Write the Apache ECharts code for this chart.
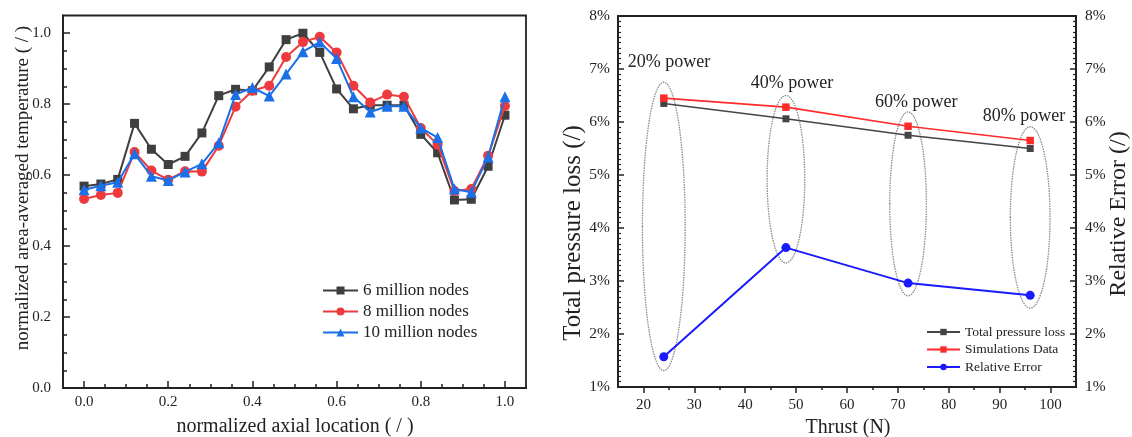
<!DOCTYPE html>
<html><head><meta charset="utf-8">
<script src="https://cdn.jsdelivr.net/npm/echarts@6/dist/echarts.min.js"></script>
<style>html,body{margin:0;padding:0;background:#fff}#c{width:1132px;height:437px}</style>
</head><body><div id="c"></div>
<script>
// ---- Left chart data ----
const axialLocation = [0,0.04,0.08,0.12,0.16,0.20,0.24,0.28,0.32,0.36,0.40,0.44,0.48,0.52,0.56,0.60,0.64,0.68,0.72,0.76,0.80,0.84,0.88,0.92,0.96,1.00];
const nodes6M  = [0.569,0.575,0.588,0.746,0.673,0.630,0.653,0.719,0.824,0.842,0.838,0.905,0.982,1.000,0.946,0.843,0.787,0.797,0.797,0.797,0.715,0.663,0.530,0.532,0.625,0.769];
const nodes8M  = [0.533,0.544,0.550,0.665,0.613,0.587,0.611,0.610,0.683,0.793,0.838,0.852,0.933,0.975,0.990,0.946,0.852,0.805,0.827,0.821,0.733,0.686,0.555,0.561,0.655,0.795];
const nodes10M = [0.559,0.570,0.580,0.660,0.597,0.585,0.609,0.632,0.691,0.827,0.847,0.823,0.885,0.948,0.975,0.929,0.821,0.778,0.794,0.794,0.733,0.706,0.561,0.552,0.651,0.821];
const leftSeriesNames = ['6 million nodes','8 million nodes','10 million nodes'];
const leftXMajorTicks = [0,0.2,0.4,0.6,0.8,1.0];
const leftXMinorTicks = [0.05,0.1,0.15,0.25,0.3,0.35,0.45,0.5,0.55,0.65,0.7,0.75,0.85,0.9,0.95];
const leftYMajorTicks = [0,0.2,0.4,0.6,0.8,1.0];
const leftYMinorTicks = [0.05,0.1,0.15,0.25,0.3,0.35,0.45,0.5,0.55,0.65,0.7,0.75,0.85,0.9,0.95];

// ---- Right chart data ----
const thrust = [24,48,72,96];
const totalPressureLoss = [6.35,6.06,5.75,5.50];
const simulationsData   = [6.45,6.28,5.92,5.65];
const relativeError     = [1.57,3.63,2.96,2.73];
const rightSeriesNames = ['Total pressure loss','Simulations Data','Relative Error'];
const rightXMajorTicks = [20,30,40,50,60,70,80,90,100];
const rightXMinorTicks = [25,35,45,55,65,75,85,95];
const powerLabels = ['20% power','40% power','60% power','80% power'];
const powerLabelX = [25.0,49.2,73.6,94.8];
const powerLabelY = [7.13,6.74,6.38,6.11];
const ellipseTop    = [6.75,6.50,6.19,5.91];
const ellipseBottom = [1.31,3.34,2.72,2.49];
const ellipseWidth  = [8.4,7.4,7.2,7.8];

const FONT = "'Liberation Serif','DejaVu Serif',serif";
const INK = '#222';
const zip = (xs, ys) => xs.map((x, i) => [x, ys[i]]);

const axisLine = {show: true, onZero: false, lineStyle: {color: INK, width: 1.8}};
function mainAxis(extra) {
  return Object.assign({
    type: 'value', axisLine: axisLine, splitLine: {show: false}
  }, extra);
}
function minorAxis(extra) {
  return Object.assign({
    type: 'value', axisLine: {show: false, onZero: false}, axisLabel: {show: false}, splitLine: {show: false}
  }, extra);
}

const chart = echarts.init(document.getElementById('c'), null, {renderer: 'canvas'});
const option = {
  animation: false,
  backgroundColor: '#fff',
  textStyle: {fontFamily: FONT, color: INK},
  grid: [
    {left: 63, top: 15.5, width: 463, height: 372.5, show: true, borderColor: INK, borderWidth: 1.8, containLabel: false},
    {left: 618, top: 16, width: 458, height: 371, show: true, borderColor: INK, borderWidth: 1.8, containLabel: false}
  ],
  xAxis: [
    mainAxis({gridIndex: 0, min: -0.05, max: 1.05, position: 'bottom',
      axisTick: {show: true, inside: true, length: 7, customValues: leftXMajorTicks, lineStyle: {color: INK, width: 1.5}},
      axisLabel: {customValues: leftXMajorTicks, formatter: v => v.toFixed(1), fontSize: 15, color: INK, fontFamily: FONT, margin: 7}}),
    minorAxis({gridIndex: 0, min: -0.05, max: 1.05, position: 'bottom',
      axisTick: {show: true, inside: true, length: 4, customValues: leftXMinorTicks, lineStyle: {color: INK, width: 1.5}}}),
    mainAxis({gridIndex: 1, min: 15, max: 105, position: 'bottom',
      axisTick: {show: true, inside: false, length: 6, customValues: rightXMajorTicks, lineStyle: {color: INK, width: 1.5}},
      axisLabel: {customValues: rightXMajorTicks, fontSize: 15, color: INK, fontFamily: FONT, margin: 11}}),
    minorAxis({gridIndex: 1, min: 15, max: 105, position: 'bottom',
      axisTick: {show: true, inside: false, length: 3, customValues: rightXMinorTicks, lineStyle: {color: INK, width: 1.5}}})
  ],
  yAxis: [
    mainAxis({gridIndex: 0, min: 0, max: 1.05, position: 'left',
      axisTick: {show: true, inside: true, length: 7, customValues: leftYMajorTicks, lineStyle: {color: INK, width: 1.5}},
      axisLabel: {customValues: leftYMajorTicks, formatter: v => v.toFixed(1), fontSize: 15, color: INK, fontFamily: FONT, margin: 12}}),
    minorAxis({gridIndex: 0, min: 0, max: 1.05, position: 'left',
      axisTick: {show: true, inside: true, length: 4, customValues: leftYMinorTicks, lineStyle: {color: INK, width: 1.5}}}),
    mainAxis({gridIndex: 1, min: 1, max: 8, interval: 1, position: 'left',
      axisTick: {show: true, inside: true, length: 6, lineStyle: {color: INK, width: 1.5}},
      minorTick: {show: true, splitNumber: 10, length: 3, lineStyle: {color: INK, width: 1.2}},
      axisLabel: {formatter: '{value}%', fontSize: 15.5, color: INK, fontFamily: FONT, margin: 8, inside: false}}),
    mainAxis({gridIndex: 1, min: 1, max: 8, interval: 1, position: 'right',
      axisTick: {show: true, inside: true, length: 6, lineStyle: {color: INK, width: 1.5}},
      minorTick: {show: true, splitNumber: 10, length: 3, lineStyle: {color: INK, width: 1.2}},
      axisLabel: {formatter: '{value}%', fontSize: 15.5, color: INK, fontFamily: FONT, margin: 9, inside: false}})
  ],
  legend: [
    {data: leftSeriesNames, orient: 'vertical', left: 322, top: 282, padding: 0, itemWidth: 35, itemHeight: 10, itemGap: 4,
     textStyle: {fontSize: 17, fontFamily: FONT, color: INK}},
    {data: rightSeriesNames, orient: 'vertical', left: 926, top: 325, padding: 0, itemWidth: 33, itemHeight: 8, itemGap: 3.5,
     textStyle: {fontSize: 13.5, fontFamily: FONT, color: INK}}
  ],
  graphic: [
    {type: 'text', x: 23, y: 188, rotation: Math.PI / 2, style: {text: 'normalized area-averaged temperature ( / )', fontSize: 19, fontFamily: FONT, fill: INK, align: 'center', verticalAlign: 'middle', textAlign: 'center', textVerticalAlign: 'middle'}},
    {type: 'text', x: 295, y: 427, style: {text: 'normalized axial location ( / )', fontSize: 20, fontFamily: FONT, fill: INK, align: 'center', verticalAlign: 'middle', textAlign: 'center', textVerticalAlign: 'middle'}},
    {type: 'text', x: 848, y: 428, style: {text: 'Thrust (N)', fontSize: 20, fontFamily: FONT, fill: INK, align: 'center', verticalAlign: 'middle', textAlign: 'center', textVerticalAlign: 'middle'}},
    {type: 'text', x: 573, y: 233, rotation: Math.PI / 2, style: {text: 'Total pressure loss (/)', fontSize: 25, fontFamily: FONT, fill: INK, align: 'center', verticalAlign: 'middle', textAlign: 'center', textVerticalAlign: 'middle'}},
    {type: 'text', x: 1119, y: 214, rotation: Math.PI / 2, style: {text: 'Relative Error (/)', fontSize: 24, fontFamily: FONT, fill: INK, align: 'center', verticalAlign: 'middle', textAlign: 'center', textVerticalAlign: 'middle'}}
  ],
  series: [
    {name: leftSeriesNames[0], type: 'line', xAxisIndex: 0, yAxisIndex: 0, data: zip(axialLocation, nodes6M),
     symbol: 'rect', symbolSize: 9, color: '#3f3f3f', lineStyle: {width: 2, color: '#3f3f3f'}, itemStyle: {color: '#3f3f3f'}, z: 3},
    {name: leftSeriesNames[1], type: 'line', xAxisIndex: 0, yAxisIndex: 0, data: zip(axialLocation, nodes8M),
     symbol: 'circle', symbolSize: 10, color: '#ee3a3e', lineStyle: {width: 2, color: '#ee3a3e'}, itemStyle: {color: '#ee3a3e'}, z: 4},
    {name: leftSeriesNames[2], type: 'line', xAxisIndex: 0, yAxisIndex: 0, data: zip(axialLocation, nodes10M),
     symbol: 'triangle', symbolSize: 11, color: '#1a70e8', lineStyle: {width: 2, color: '#1a70e8'}, itemStyle: {color: '#1a70e8'}, z: 5},
    {type: 'custom', xAxisIndex: 2, yAxisIndex: 2, silent: true, z: 1,
     data: thrust.map((x, i) => [x, ellipseTop[i], ellipseBottom[i], ellipseWidth[i]]),
     renderItem: function (params, api) {
       const x = api.value(0), top = api.value(1), bot = api.value(2), w = api.value(3);
       const c = api.coord([x, (top + bot) / 2]);
       const t = api.coord([x, top]);
       const l = api.coord([x - w / 2, top]);
       return {type: 'ellipse', shape: {cx: c[0], cy: c[1], rx: c[0] - l[0], ry: c[1] - t[1]},
               style: {fill: 'none', stroke: '#8a8a8a', lineWidth: 1.3, lineDash: [1.5, 1]}};
     }},
    {type: 'custom', xAxisIndex: 2, yAxisIndex: 2, silent: true, z: 6,
     data: powerLabels.map((s, i) => [powerLabelX[i], powerLabelY[i], i]),
     renderItem: function (params, api) {
       const p = api.coord([api.value(0), api.value(1)]);
       return {type: 'text', x: p[0], y: p[1],
               style: {text: powerLabels[api.value(2)], fontSize: 18, fontFamily: FONT, fill: INK, align: 'center', verticalAlign: 'middle'}};
     }},
    {name: rightSeriesNames[0], type: 'line', xAxisIndex: 2, yAxisIndex: 2, data: zip(thrust, totalPressureLoss),
     symbol: 'rect', symbolSize: 7, color: '#444', lineStyle: {width: 1.6, color: '#444'}, itemStyle: {color: '#444'}, z: 3},
    {name: rightSeriesNames[1], type: 'line', xAxisIndex: 2, yAxisIndex: 2, data: zip(thrust, simulationsData),
     symbol: 'rect', symbolSize: 7.5, color: '#ff2a2a', lineStyle: {width: 1.6, color: '#ff2a2a'}, itemStyle: {color: '#ff2a2a'}, z: 4},
    {name: rightSeriesNames[2], type: 'line', xAxisIndex: 2, yAxisIndex: 3, data: zip(thrust, relativeError),
     symbol: 'circle', symbolSize: 9, color: '#1a1aff', lineStyle: {width: 2, color: '#1a1aff'}, itemStyle: {color: '#1a1aff'}, z: 5}
  ]
};
chart.setOption(option);
</script>
</body></html>
